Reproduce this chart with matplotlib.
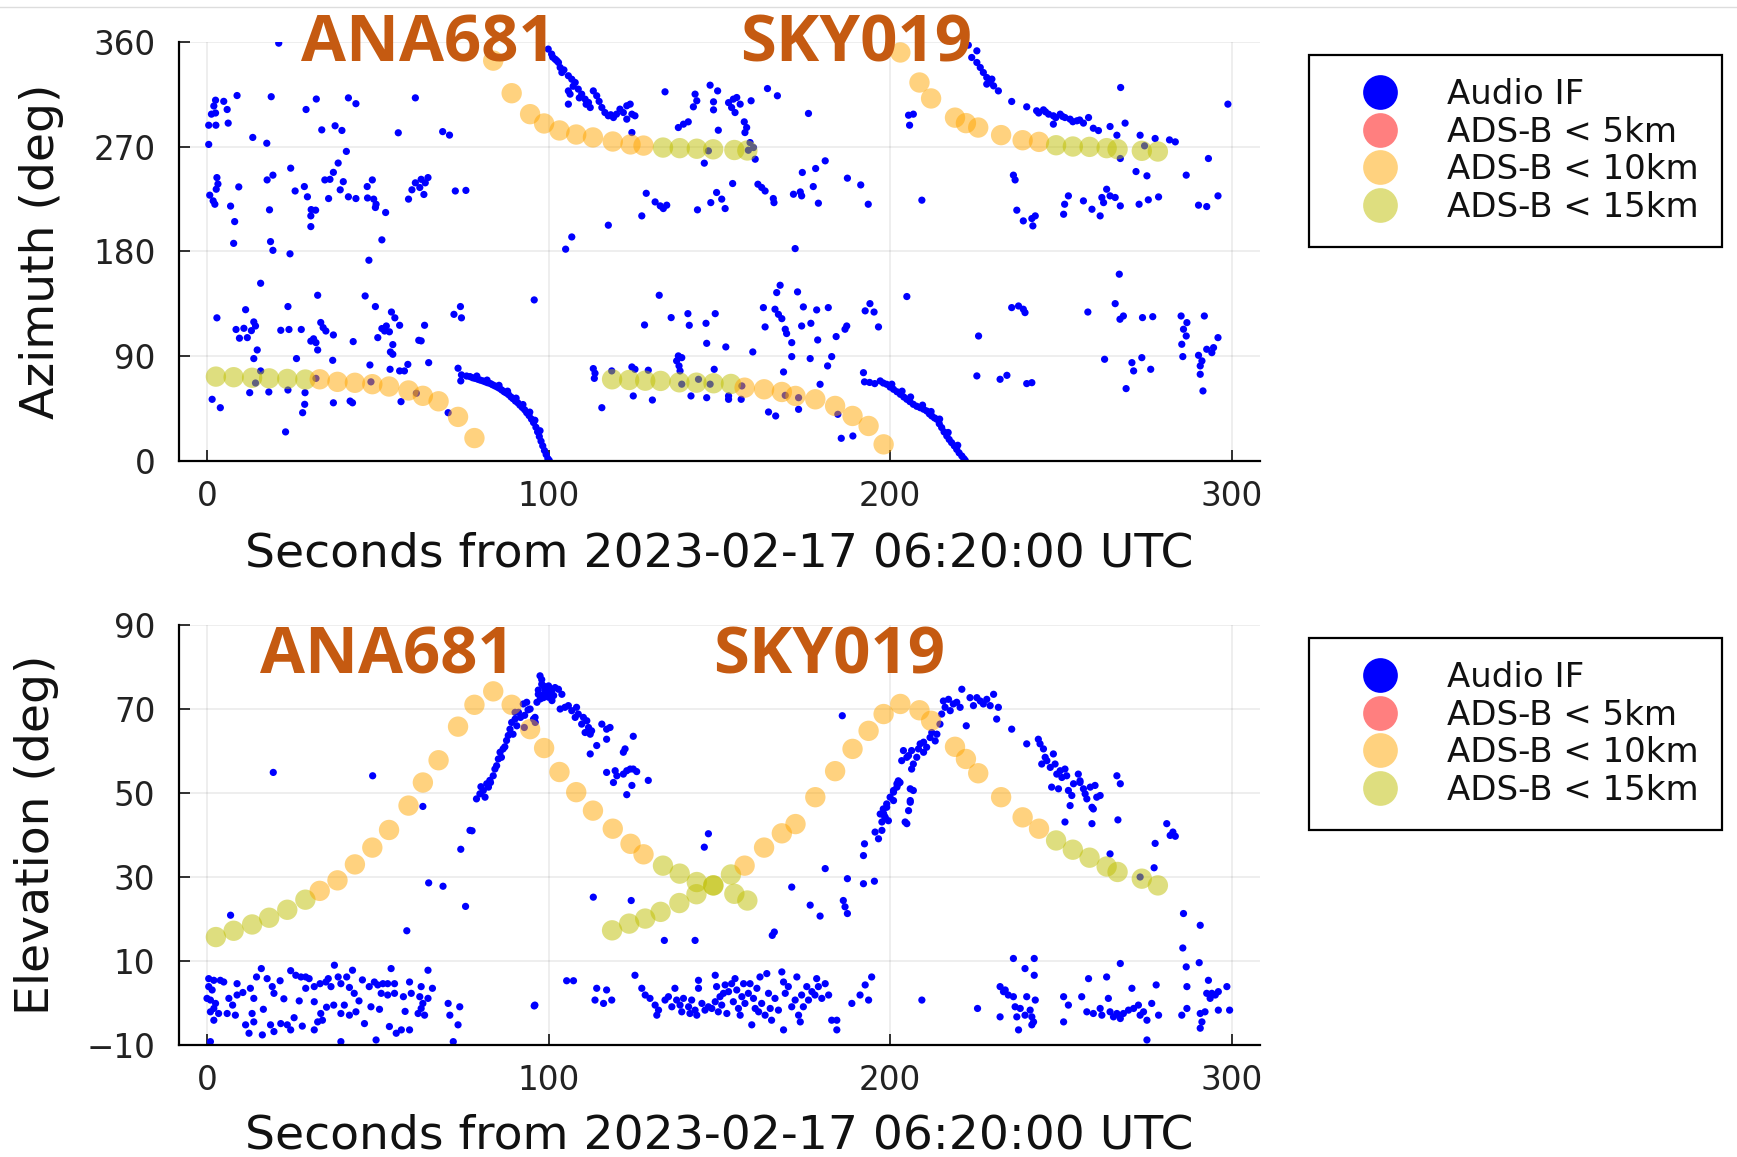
import matplotlib
matplotlib.use("Agg")
import matplotlib.pyplot as plt
from matplotlib.lines import Line2D
import numpy as np

# ---------------- DATA ----------------
# ADS-B tracks (time in s, azimuth / elevation in deg, distance class)
t_ana = [2.6, 7.8, 13.2, 18.2, 23.5, 28.8, 33.0, 38.2, 43.3, 48.4, 53.3, 59.0, 63.2, 67.8, 73.5, 78.3,
         83.8, 89.2, 94.6, 98.7, 103.2, 108.1, 113.0, 118.8, 124.0, 127.8, 133.5, 138.4, 143.4, 148.2, 154.4, 158.2]
az_ana = [72.5, 72.0, 71.5, 71.0, 70.5, 70.0, 70.2, 68.0, 67.2, 66.0, 64.0, 60.6, 56.0, 51.3, 37.9, 19.7,
          344.0, 316.0, 298.0, 290.0, 284.0, 280.5, 278.0, 274.5, 272.0, 271.0, 269.3, 268.8, 268.3, 267.8, 267.2, 266.8]
el_ana = [15.7, 17.2, 18.7, 20.3, 22.2, 24.6, 26.7, 29.2, 33.0, 37.0, 41.2, 47.0, 52.5, 57.8, 65.8, 71.0,
          74.2, 71.0, 65.2, 60.7, 55.0, 50.2, 45.8, 41.5, 37.9, 35.4, 32.7, 30.8, 28.8, 28.0, 26.0, 24.4]
cls_ana = [15] * 6 + [10] * 20 + [15] * 6

t_sky = [118.6, 123.6, 128.3, 132.8, 138.3, 143.3, 148.3, 153.4, 157.4, 163.1, 168.3, 172.3, 178.1, 183.9, 189.0,
         193.7, 198.1, 203.0, 208.6, 212.0, 219.0, 222.2, 225.8, 232.5, 238.8, 243.6, 248.6, 253.5, 258.4, 263.4,
         266.6, 273.7, 278.4]
az_sky = [70.2, 69.6, 69.0, 68.8, 67.6, 67.3, 66.8, 66.2, 63.0, 61.6, 59.3, 55.9, 53.0, 47.3, 38.7,
          30.1, 14.3, 351.0, 325.2, 311.5, 295.0, 290.3, 286.5, 280.0, 275.6, 274.2, 271.3, 270.2, 269.9, 268.8,
          267.9, 266.5, 265.9]
el_sky = [17.3, 18.9, 20.1, 21.7, 23.8, 25.9, 28.0, 30.6, 32.7, 37.0, 40.4, 42.6, 49.0, 55.2, 60.5,
          64.8, 68.8, 71.2, 69.7, 67.2, 61.0, 58.1, 54.7, 49.0, 44.2, 41.5, 38.7, 36.5, 34.6, 32.5,
          31.2, 29.6, 28.0]
cls_sky = [15] * 8 + [10] * 18 + [15] * 7

# Audio IF detections, azimuth panel (t, az)
az_if_noise_a = [
    (21, 359), (8.8, 314), (18.8, 313), (2.5, 310), (4.9, 309), (2, 305), (5.9, 302), (1.3, 298), (2.5, 299),
    (0.5, 288.5), (2.6, 288.5), (6.2, 290.3), (0.5, 272), (13.4, 278), (17.5, 273), (29, 302), (32, 311),
    (33.6, 284.5), (37.5, 288), (39.5, 284), (41.4, 312), (43.6, 307), (56, 282), (61, 312), (69, 283), (71, 280),
    (40.8, 266), (38.4, 256), (37, 248), (36, 242), (34.5, 241.5), (24.5, 251.6), (17.6, 241.5), (19.3, 245.6),
    (2.9, 243.5), (3.2, 238), (2.7, 233.5), (0.8, 228.4), (1.8, 223.5), (2.3, 220.6), (9.3, 235.5), (6.9, 219),
    (8.1, 205.7), (7.8, 187), (18.3, 215.8), (18.6, 188.5), (19.3, 181), (24.3, 178), (25.8, 232), (28.5, 235.8),
    (29.4, 227), (30.5, 216), (31.8, 215.5), (30.4, 210.6), (30.4, 201.4), (35.6, 225.5), (39.9, 240), (39, 233),
    (41.4, 227), (43.6, 225.5), (46.9, 235.8), (48.4, 241.5), (47, 226), (48.8, 225), (49.5, 220.6), (49.3, 217.8),
    (52.3, 213.5), (51.2, 190), (47.4, 172.5), (59, 225), (60, 233), (61, 239), (62.7, 242), (63.9, 239),
    (64.7, 243.5), (63.5, 229), (62.3, 235), (72.7, 232), (75.8, 232.5),
]
az_if_noise_b = [
    (15.7, 152.7), (32.4, 142.4), (46.3, 141.8), (95.8, 138.4), (2.9, 123), (11.3, 130), (23.7, 132.7),
    (49.3, 132.7), (54, 128), (55, 123), (74.2, 132.7), (72.3, 126), (74.5, 123), (13.7, 119.5), (14.2, 116),
    (8.5, 113), (10.8, 114), (13, 112), (9.5, 105.5), (11.8, 106), (21.6, 112.3), (24, 113), (27.6, 113),
    (33.3, 119), (34, 114.6), (34.8, 111.7), (37, 108.3), (30.4, 103), (31.9, 101.7), (32.4, 95.4), (31.2, 105),
    (42.8, 102.6), (50, 106), (51.2, 113.8), (52.5, 116), (53.4, 111), (52, 111.7), (54.4, 100), (53.7, 93.7),
    (54.4, 91.7), (56.4, 116.6), (63.7, 116.6), (62, 103.7), (62.7, 103.2), (14.7, 95.4), (13.7, 88), (26.2, 88),
    (36.8, 86.5), (47.7, 82.5), (58.8, 83), (57.8, 77.4), (56.4, 77.4), (53.6, 78.8), (64.9, 84.5), (15.7, 77.4),
    (23.7, 61), (18.1, 59.3), (12.5, 58.7), (28.7, 58.7), (28.6, 48.7), (28, 41.5), (37, 50), (41.9, 51.5),
    (42.6, 50), (56.8, 51), (1.5, 53), (3.9, 45.8), (23, 25), (73.5, 79.7), (74.3, 68.8), (70.6, 41.5),
    (14.2, 67), (31.9, 71), (48, 68), (61.3, 58.2),
]
az_if_ana_low = [
    (74.5, 74), (76, 73), (77, 72.5), (77.8, 71.5), (78.5, 71), (79.3, 70.2), (80, 69.5), (80.8, 68.8), (81.5, 68),
    (82.2, 67.2), (83, 66.5), (83.6, 65.5), (84.3, 64.5), (85, 63.5), (85.6, 62.5), (86.3, 61), (87, 59.5),
    (87.6, 58.5), (88.3, 57), (89, 55), (89.6, 53.5), (90.3, 51.5), (91, 50), (91.6, 48), (92.3, 46), (93, 44),
    (93.6, 41.5), (94.3, 39), (95, 36), (95.6, 33), (96.3, 29), (96.8, 25), (97.3, 21), (97.8, 17), (98.3, 13),
    (98.8, 9), (99.3, 5.5), (99.8, 2), (100.2, 0.5), (79, 73), (82, 69.5), (85.5, 65), (88, 60), (90.5, 54),
    (92.5, 48.5), (94.5, 42), (96, 35), (97.5, 26),
]
az_if_ana_high = [
    (99.9, 353.9), (100.9, 349.6), (101.9, 345.3), (102.9, 342.4), (103.4, 338.1), (103.9, 333.8), (105.8, 331),
    (106.8, 328), (107.8, 325.2), (105.8, 318), (106.3, 315.2), (108.7, 319.5), (109.7, 315.2), (110.7, 310.9),
    (111.7, 308), (112.2, 303.7), (113.1, 318), (114.1, 313.8), (115.6, 303.7), (116.5, 299.4), (117.5, 296.6),
    (119, 295.1), (119.9, 298), (120.9, 302.3), (121.9, 299.4), (122.9, 305.2), (123.9, 306.6), (124.4, 298),
    (125.3, 296.6), (122.9, 293.7), (105.8, 306.6), (124.4, 282.2), (101.2, 347), (102.4, 344), (104.5, 336),
    (107.2, 322), (109, 312), (111, 306.5), (114.8, 309), (118.2, 297.5),
]
az_if_noise_c = [
    (134.1, 317.2), (142.9, 315.2), (143.4, 309.5), (142.4, 304.3), (147.3, 322.9), (149.5, 318), (148.3, 308.6),
    (148.3, 301.7), (152.7, 307.9), (154.1, 310.9), (155.1, 312.3), (153.6, 303.7), (154.6, 299.4), (156.1, 306.6),
    (159.3, 309.5), (149.7, 284.2), (138, 286.5), (139.5, 289.4), (140.9, 291.4), (157.3, 291.4), (158, 286.5),
    (157.5, 282.2), (159, 273.6), (160, 269.3), (160.5, 259.3), (164.1, 320), (167, 313.8), (176.1, 298.6),
    (145.6, 255.9), (153.9, 238.4), (161.3, 237.8), (162.4, 235), (163.4, 232), (165.8, 225.5), (166, 222),
    (171.7, 229.2), (173.7, 231.2), (174.1, 227.8), (174.3, 247.9), (178.2, 251.3), (181, 257.9), (177.5, 235.8),
    (179, 221.5), (187.5, 243), (191.4, 237.2), (193.6, 220.6), (128.6, 230), (131.2, 222.6), (132.7, 219.2),
    (133.6, 216.9), (134.6, 219.8), (127.3, 210.6), (143.6, 215.8), (147.5, 222), (149.2, 230.7), (150.7, 225),
    (151.7, 216.9), (117.5, 202.6), (106.8, 192.5), (105, 182), (172.2, 182.5), (146.8, 266.5), (158.5, 267),
]
az_if_noise_d = [
    (132.4, 142.4), (167.8, 151), (166.8, 144.7), (172.9, 145.3), (128.1, 116.9), (135.9, 123.2), (140.8, 126.6),
    (141.2, 116.6), (146.1, 118.3), (148.8, 126.6), (146.3, 101.1), (151.9, 98), (138, 90.3), (137.5, 86),
    (139, 88.8), (138.2, 81.7), (138.5, 77.4), (148.5, 78.8), (159.8, 93.7), (162.9, 131.8), (166.3, 130.4),
    (167.3, 126), (168.3, 122.3), (169.3, 113.2), (169.7, 109.5), (163.4, 115.2), (171.2, 101.7), (171.2, 89.7),
    (174.6, 132.4), (178.5, 129.8), (181.9, 131.8), (176.8, 118.3), (174.1, 116), (178.8, 104), (176.6, 88),
    (182.9, 89.7), (181.7, 81.7), (184.2, 106.9), (186.8, 113.2), (187.3, 116), (194.1, 135.2), (192.7, 129),
    (195.3, 128), (196.6, 115.2), (192.2, 75.9), (168.8, 76.5), (179.5, 65.9), (113.1, 79.4), (113.6, 75.4),
    (113.4, 71), (118.5, 77.4), (124.4, 80.8), (125.3, 78.8), (129.2, 78), (124.8, 55.9), (130.4, 52.4),
    (115.6, 45.8), (141.7, 55.9), (146.3, 54.4), (152.7, 55.9), (152.7, 53), (156.4, 53), (164.4, 42.1),
    (166.5, 38.7), (173.2, 44.4), (185.7, 19.5), (189.1, 21.5), (139, 66), (143.9, 70.2), (147.3, 66),
    (156.6, 64.5), (169.3, 56.4), (173.2, 54.4), (184.7, 40.1),
]
az_if_sky_low = [
    (192.5, 68), (194, 67.5), (195.5, 66.5), (197.1, 68.8), (198, 67), (199, 65.9), (200, 63.5), (201, 61.6),
    (202, 59.5), (203, 57.3), (204, 55), (204.9, 53), (205.8, 51), (206.8, 48.7), (207.8, 47), (208.8, 45.8),
    (209.8, 44.5), (210.7, 43), (211.5, 40.5), (212.2, 38.7), (213, 37), (213.7, 35.8), (214.4, 32), (215.1, 28.7),
    (215.8, 25), (216.6, 21.5), (217.3, 18.5), (218, 15.8), (218.8, 13), (219.5, 10), (220.2, 7), (221, 4.3),
    (221.6, 2), (222, 0.5), (200.5, 66), (203.5, 60), (206, 55), (209.5, 48), (212, 42.5), (214.5, 36),
    (217, 24.5), (219.8, 13.5),
]
az_if_sky_high = [
    (222.9, 357.3), (225.4, 352.4), (223.9, 346.7), (225.4, 342.4), (226.4, 338.1), (227.3, 333.8), (228.3, 329.5),
    (229.3, 325.2), (230.3, 322.3), (231.7, 318), (228.3, 323.8), (229.8, 328.1), (235.6, 308.9), (240, 304.3),
    (242.9, 300.9), (244.9, 301.7), (246.4, 298), (247.8, 296.6), (249.8, 298), (251.2, 295.1), (252.7, 293.7),
    (254.7, 292.3), (256.6, 290.3), (258.1, 295.1), (259.5, 285.9), (261, 283.9), (247.8, 289.4), (264.4, 287.4),
    (266.4, 279.9), (268.8, 290.3), (273.2, 279.9), (277.6, 277.1), (281.8, 275.9), (283.5, 274.2), (243.5, 299),
    (245.5, 300), (248.5, 295), (250.5, 296), (253.5, 291.5), (255.5, 293),
]
az_if_noise_e = [
    (267.5, 320.9), (298.9, 306.6), (267.4, 259.9), (293.2, 259.9), (272, 248.7), (275.2, 245), (286.7, 245.6),
    (236.1, 245.6), (236.6, 241.5), (209.3, 224.1), (237.1, 215.5), (239, 206.3), (241.5, 208.3), (242.5, 210.6),
    (241.8, 202), (252.2, 227.8), (251.1, 220.6), (250.8, 212), (256.6, 223.5), (259.1, 216.3), (261.5, 210.6),
    (262.5, 222), (263.4, 233.5), (264.4, 227.8), (262, 226.4), (265.9, 226.4), (267.4, 219.2), (272.9, 220.6),
    (275.6, 224.4), (278.6, 226.9), (290.3, 219.8), (292.7, 218.6), (296, 227.8), (205.4, 297.1), (206.8, 298),
    (205.7, 288.5), (274.5, 270.8),
]
az_if_noise_f = [
    (267.1, 160.5), (204.9, 141.3), (235.6, 131.8), (237.6, 133.2), (239, 130.4), (239.5, 127.5), (257.9, 128),
    (265.9, 135.2), (268.3, 124.6), (267.3, 121.8), (273.9, 123.2), (276.9, 124), (285.2, 124.6), (286.9, 118.9),
    (285.9, 113.2), (286.7, 107.4), (292, 124.6), (296, 106), (285.4, 100.3), (225.9, 107.4), (285.7, 89.7),
    (290.3, 90.8), (291.3, 86), (290.8, 81.7), (292.7, 96), (294.2, 93.1), (294.7, 97.4), (290.8, 74.5),
    (291.6, 60.2), (262.8, 87.4), (270.8, 84.5), (271.3, 77.4), (273.7, 88.8), (276.3, 78.8), (269.1, 62.2),
    (225.4, 73.1), (232.2, 70.2), (234.2, 73.6), (240, 66.5), (241.5, 67.3),
]

# Audio IF detections, elevation panel (t, el)
el_if_ana = [
    (78.9, 48.6), (79.9, 49.8), (80.9, 50.6), (81.9, 52.2), (82.8, 53), (83.8, 54.1), (82.4, 51.4), (81.4, 49),
    (84.3, 55.7), (85.3, 58.1), (85.8, 59.7), (86.7, 60.5), (87.7, 62.5), (88.2, 63.7), (88.7, 65.2), (89.2, 66.8),
    (90.2, 67.6), (91.2, 69.2), (92.6, 71.2), (93.6, 71.6), (94.6, 70), (95.6, 67.6), (96.1, 66.8), (96.6, 71.6),
    (97.6, 72.4), (98, 73.2), (99, 74), (100, 72.8), (101, 72), (98, 77), (90.2, 69.2), (92.9, 65.6),
    (80.2, 51.5), (83, 52.5), (84.8, 56.5), (86.2, 58.5), (87.2, 61), (89.6, 64), (90.7, 66), (91.8, 68),
    (93, 68.5), (94, 69.8), (97, 74.5), (98.5, 75.5), (99.5, 73.5), (100.5, 74.6), (101.5, 73.2),
    (97.5, 77.9), (98, 75.9), (99, 74.7), (100, 75.5), (100.9, 74.3), (101.9, 75.1), (102.9, 74.7), (103.9, 73.5),
    (97, 73.5), (98.5, 72.7), (100.4, 73.1), (103.4, 70), (104.8, 70.4), (105.8, 70.8), (106.8, 69.6),
    (108.2, 70.4), (108.7, 68.8), (110.2, 68), (111.2, 67.2), (111.7, 65.6), (112.6, 64.8), (107.8, 68),
    (109.7, 66.4), (110.7, 64.4), (112.2, 64), (115.6, 66.4), (117, 65.2), (118, 65.6), (117, 62.8),
    (114.1, 61.3), (112.2, 59.3), (96.05, 68),
    (117, 54.9), (119.5, 55.3), (120, 54.1), (121.9, 54.5), (122.9, 55.3), (123.9, 55.7), (124.8, 55.7),
    (125.8, 55.1), (121.9, 59.7), (122.4, 60.5), (124.8, 63.5), (124.4, 51.8), (122.9, 49.6), (129.2, 53),
    (119, 52.5),
]
el_if_sky = [
    (195.6, 40.7), (196.6, 39.1), (197.6, 43.1), (198.1, 45.1), (199, 46.6), (198.5, 44.3), (200, 49), (201, 50.6),
    (202, 52.2), (202.4, 52.9), (203.4, 57.7), (203.9, 60.1), (205.4, 58.9), (206.3, 60.1), (204.4, 43.1),
    (205.9, 47.8), (205.9, 51), (197.6, 41.1), (197.1, 45), (198, 46.2), (199, 47.4), (201, 50.2), (202, 51.4),
    (202.9, 52.5), (198.5, 44.2), (199.5, 43.4), (201, 48.2), (202.4, 52.2), (204.9, 42.7), (205.4, 45.8),
    (205.9, 48.2), (206.8, 50.6), (204.9, 58.5), (206.3, 55.7), (206.8, 56.9), (207.8, 58.5), (208.3, 60.5),
    (208.8, 61.7), (209.8, 62.1), (209.8, 59.7), (210.7, 60.9), (211.7, 63.2), (212.2, 64.4), (213.2, 62.4),
    (213.7, 64), (214.6, 66.4), (215.1, 68.8), (215.6, 71.9), (216.1, 70.4), (217.1, 72.3), (217.6, 69.6),
    (218.5, 71.2), (219.5, 71.6), (220.5, 70.4), (221, 74.7), (222.3, 66), (223.4, 72.7), (224.4, 70.8),
    (225.4, 72.7), (226.4, 71.9), (227.3, 71.2), (228.3, 72.3), (229.3, 70.8), (230.3, 73.5), (231.2, 67.6),
    (231.7, 70.4), (235.6, 65.2),
    (240, 61.7), (243.4, 62.8), (243.9, 61.7), (244.9, 60.5), (245.4, 58.5), (244.4, 56.9), (245.9, 57.7),
    (246.9, 56.1), (247.8, 59.3), (248.3, 56.9), (248.8, 54.5), (249.8, 55.3), (250.3, 53.7), (251.2, 55.7),
    (251.7, 54.1), (247.3, 51.4), (249.3, 51), (252.2, 50.6), (253.2, 49.4), (253.7, 52.2), (255.1, 54.5),
    (255.6, 52.5), (256.6, 51), (257.1, 49.8), (257.6, 48.6), (258.6, 51.4), (260, 51.8), (260.5, 49),
    (261.5, 49.4), (259.1, 46.6), (252.7, 47), (255.6, 52.9), (251.2, 43.1), (259.1, 42.7), (259.5, 46.2),
    (266.4, 54.1), (267.4, 52.2), (266.7, 43.6), (264.4, 35.5),
]
el_if_scatter = [
    (19.4, 54.9), (48.5, 54.1), (63.2, 46.8), (6.9, 20.9), (58.5, 17.2), (64.9, 28.6), (69.1, 27.8), (75.7, 23),
    (74.3, 36.6), (77, 41.1), (77.6, 41), (95.8, -0.7), (146.8, 40.3), (145.6, 37.1), (113.1, 25.2), (124.2, 24.4),
    (133.9, 14.9), (142.9, 14.9), (165.5, 16.1), (166.1, 16.9), (186, 68.4), (171.2, 27.6), (181, 32),
    (176.6, 23.3), (179.5, 20.7), (187.5, 29.6), (186.3, 24.4), (186.8, 22.9), (187.5, 21.3), (192.2, 28.4),
    (195.4, 29), (192.2, 35.1), (192.5, 37.9), (277.6, 38), (277.3, 32.2), (281, 42.7), (282, 39.9),
    (283.5, 39.7), (282.8, 40.7), (285.9, 21.3), (290.8, 18.5), (285.7, 13.1), (286.7, 8.6), (290.5, 9.6),
    (273.2, 30),
]
el_if_low_a = [
    (0.5, 5.8), (2, 5.4), (3.9, 5.4), (4.9, 5), (0.5, 3.9), (1.5, 3.1), (0, 1.1), (1, 0.7), (2.5, -0.1), (2, -1.3),
    (1, -2.1), (3.4, -2.5), (2, -4.1), (6.4, 1.1), (5.9, -2.5), (8.8, 4.6), (8.8, 1.9), (8.3, -2.9), (12.7, 3.5),
    (13.7, 1.1), (13.2, -2.5), (14.5, 6.2), (15.9, 8.2), (17.6, 5.8), (19.1, 3.9), (19.6, 2.3), (21.4, 5.3),
    (24.5, 7.7), (26, 6.6), (27.5, 6.2), (28.9, 6.2), (29.9, 5.8), (28.9, 3.5), (31.4, 3.9), (31.4, 0.3),
    (33.1, 4.6), (34.8, 5), (35.5, 5.8), (36.3, 3.9), (37.3, 9), (38.4, 6.2), (39.2, 4.6), (40.9, 6.2),
    (41.7, 3.7), (42.6, 7.8), (43.1, 2.3), (40.2, -0.5), (37.1, -0.5), (39.2, -2.5), (41.7, -2.9), (43.6, -2.1),
    (33.3, -2.5), (32.4, -4.5), (31.4, -6.4), (33.8, -4.1), (47.5, 3.9), (49, 5), (50, 4.3), (51.5, 4.6),
    (52.9, 4.6), (53.9, 8.2), (54.9, 4.6), (54.9, 2.3), (52.9, 1.9), (51, 2.3), (48, -0.9), (46.1, -4.9),
    (59.3, 5), (59.8, 2.3), (62.7, 3.9), (62.3, 1.5), (63.2, -0.1), (62.7, -1.3), (61.8, -2.5), (63.7, -2.9),
    (64.7, 7.8), (64.7, 1.1), (70.6, -0.1), (74, -0.9), (71.1, -2.9), (73.5, -5.2), (11.3, -5.2), (13.7, -4.5),
    (18.6, -5.2), (21.6, -4.9), (23.5, -5.2), (24.5, -6.4), (27.9, -5.5), (19.6, -6.8), (16.2, -7.6),
    (12.3, -7.2), (1, -9.2), (39.2, -9.2), (49.5, -8.8), (53.4, -5.6), (55.4, -7.2), (56.9, -6.4), (59.3, -6.4),
    (72.1, -9.2), (7.5, -0.5), (10.5, 2.5), (16.5, -1.5), (22.5, 1), (25.5, -3.5), (27, 0.5), (35, -1),
    (44.5, 0.5), (45.5, 5.5), (50.5, -1.5), (57.5, 1.5), (58, -2), (66, 3.5),
]
el_if_low_b = [
    (105.3, 5.3), (107.3, 5.3), (114.1, 3.5), (117, 3.1), (113.6, 0.7), (116.1, -0.1), (118.5, 0.7), (96, -0.5),
    (125.3, 6.6), (127.3, 3.5), (128.3, 1.9), (129.7, 1.1), (131.2, -0.5), (132.2, -1.7), (131.7, -2.9),
    (134.1, 0.7), (135.1, 1.5), (136.1, -0.9), (137, 3.5), (137.5, 0.7), (138.5, -0.5), (139, -2.1), (139.5, 1.1),
    (141, -0.9), (141.4, -2.5), (141.9, 0.7), (142.9, -1.7), (143.4, -2.9), (143.9, 5.4), (143.9, 3.5),
    (144.9, -0.1), (145.8, -1.7), (146.8, -0.9), (147.8, -1.3), (148.8, 6.6), (148.8, 0.3), (149.2, 3.9),
    (149.7, -2.1), (150.2, 1.5), (150.7, -0.5), (151.2, 2.3), (151.7, 4.3), (152.2, -2.5), (152.7, 2.7),
    (153.6, 4.6), (154.1, 0.3), (154.6, 5.8), (155.1, 3.1), (155.6, -1.3), (156.1, -2.9), (156.6, 1.5),
    (157.1, 4.6), (157.5, -0.1), (158.5, 2.3), (159, 4.6), (159.5, -5.2), (160, 1.1), (160.5, -1.3), (161, 3.5),
    (161.5, -2.1), (161.9, 6.2), (162.4, -0.1), (163.4, -2.9), (163.9, 7), (164.4, 2.3), (164.9, -1.3),
    (165.3, -4.1), (166.3, 1.1), (167.3, -1.7), (168.3, 7.4), (168.8, 5), (168.8, -6.4), (169.3, 2.3),
    (170.2, 3.9), (171.2, -0.9), (172.2, 0.7), (172.7, 6.2), (173.2, -2.9), (173.7, -4.5), (174.1, 1.9),
    (174.6, -0.9), (175.6, 3.9), (176.1, 0.7), (177.1, 2.7), (178, 1.9), (178.5, 5.8), (179, 3.9), (180, 1.1),
    (181, 4.6), (182, 1.9), (182.9, -4.1), (184.4, -4.1), (184.4, -6.4), (188.8, -0.1), (191.2, 1.9),
    (192.7, 4.3), (193.7, 0.7), (194.6, 6.2),
]
el_if_low_c = [
    (209.3, 0.7), (225.6, -1.3), (232.2, 3.9), (233.2, 2.7), (233.7, 3.1), (236.1, 1.5), (236.6, -0.9),
    (234.6, 1.9), (232.2, -3.3), (237.1, -3.3), (237.6, -6.4), (238.1, -1.3), (239.5, -2.9), (240, 1.5),
    (241, -1.7), (241.5, -3.3), (242, -4.5), (242.5, 0.7), (241.5, -5.2), (236.1, 10.6), (239.5, 8.2),
    (242.2, 10.6), (242.2, 6.6), (250.8, 1.5), (252.2, -0.5), (250.8, -4.5), (256.1, 1.5), (257.6, -2.1),
    (258.1, 5.8), (259.5, -2.5), (261.5, -1.3), (262, -2.9), (263.4, 6.2), (263.9, 1.1), (264.4, -2.1),
    (265.4, -3.3), (266.4, -2.5), (267.4, -3.7), (267.4, 9.4), (268.3, -2.5), (269.8, -1.7), (270.8, 3.5),
    (271.3, -1.3), (272.7, -0.5), (273.2, -2.9), (274.2, -2.1), (275.2, -4.1), (276.6, -0.1), (277.9, 4.3),
    (278.6, -2.9), (275.2, -8.8), (285.4, -2.9), (286.9, -1.3), (286.9, 3.9), (290.8, -2.5), (292.2, -2.1),
    (291.3, -4.5), (290.8, -6), (293.2, 5.4), (292.7, 2.3), (294.2, 2.3), (295.2, 1.9), (293.7, 1.1),
    (296.1, 2.7), (296.1, -1.7), (298.6, 3.9), (299.4, -1.7),
]

series_labels = ["Audio IF", "ADS-B < 5km", "ADS-B < 10km", "ADS-B < 15km"]
flight_labels = ["ANA681", "SKY019"]
x_ticks = [0, 100, 200, 300]
az_ticks = [0, 90, 180, 270, 360]
el_ticks = [-10, 10, 30, 50, 70, 90]
x_label = "Seconds from 2023-02-17 06:20:00 UTC"

# ---------------- STYLE ----------------
BLUE = (0.0, 0.0, 1.0, 1.0)
C5 = (1.0, 0.0, 0.0, 0.5)
C10 = (1.0, 0.65, 0.0, 0.5)
C15 = (0.75, 0.75, 0.0, 0.5)
ANN = "#C55A11"
cls_color = {5: C5, 10: C10, 15: C15}

W, H = 1737, 1157
fig = plt.figure(figsize=(W / 100, H / 100), dpi=100)
ax_az = fig.add_axes([179 / W, 1 - 461 / H, 1081 / W, 419 / H])
ax_el = fig.add_axes([179 / W, 1 - 1045 / H, 1081 / W, 420 / H])


def pts(*groups):
    arr = np.array([p for g in groups for p in g], dtype=float)
    return arr[:, 0], arr[:, 1]


def style(ax, yticks, ylim, ylabel, xlab_y, ylab_x):
    ax.set_xlim(-8.2, 308.3)
    ax.set_ylim(*ylim)
    ax.set_xticks(x_ticks)
    ax.set_yticks(yticks)
    for s in ("top", "right"):
        ax.spines[s].set_visible(False)
    for s in ("left", "bottom"):
        ax.spines[s].set_linewidth(1.6)
        ax.spines[s].set_color("black")
    ax.tick_params(direction="in", length=8, width=1.3, labelsize=23.5, colors="#222222")
    ax.tick_params(axis="y", pad=17)
    ax.tick_params(axis="x", pad=14)
    ax.grid(True, color="black", alpha=0.08, linewidth=1.2)
    ax.set_axisbelow(True)
    ax.set_xlabel(x_label, fontsize=34, color="#111111")
    ax.xaxis.set_label_coords(0.5, xlab_y)
    ax.set_ylabel(ylabel, fontsize=34, color="#111111")
    ax.yaxis.set_label_coords(ylab_x, 0.5)


def adsb(ax, t, v, cls):
    cols = [cls_color[c] for c in cls]
    ax.scatter(t, v, s=215, c=cols, edgecolors="none", zorder=3)


# azimuth panel
tx, vy = pts(az_if_noise_a, az_if_noise_b, az_if_ana_low, az_if_ana_high, az_if_noise_c,
             az_if_noise_d, az_if_sky_low, az_if_sky_high, az_if_noise_e, az_if_noise_f)
ax_az.scatter(tx, vy, s=27, color=BLUE, edgecolors="none", zorder=2)
adsb(ax_az, t_ana, az_ana, cls_ana)
adsb(ax_az, t_sky, az_sky, cls_sky)
style(ax_az, az_ticks, (0, 360), "Azimuth (deg)", -0.168, -0.106)

# elevation panel
tx, vy = pts(el_if_ana, el_if_sky, el_if_scatter, el_if_low_a, el_if_low_b, el_if_low_c)
ax_el.scatter(tx, vy, s=27, color=BLUE, edgecolors="none", zorder=2)
adsb(ax_el, t_ana, el_ana, cls_ana)
adsb(ax_el, t_sky, el_sky, cls_sky)
style(ax_el, el_ticks, (-10, 90), "Elevation (deg)", -0.162, -0.111)

# legends
handles = [Line2D([], [], ls="", marker="o", markersize=25, markerfacecolor=c, markeredgecolor="none")
           for c in (BLUE, C5, C10, C15)]
for top_px in (55, 638):
    leg = fig.legend(handles, series_labels, loc="upper left",
                     bbox_to_anchor=(1309 / W, 1 - top_px / H), bbox_transform=fig.transFigure,
                     fontsize=24.5, frameon=True, fancybox=False, edgecolor="black", framealpha=1,
                     borderpad=0.68, labelspacing=0.135, handlelength=2.8, handletextpad=0.59,
                     borderaxespad=0)
    leg.get_frame().set_linewidth(1.6)
    for t in leg.get_texts():
        t.set_color("#111111")

# flight annotations
ann = dict(fontsize=47, fontweight="bold", family=["Open Sans", "DejaVu Sans"], color=ANN,
           ha="left", va="baseline", zorder=10)
fig.text(301 / W, 1 - 62 / H, flight_labels[0], **ann)
fig.text(740 / W, 1 - 62 / H, flight_labels[1], **ann)
fig.text(260 / W, 1 - 673 / H, flight_labels[0], **ann)
fig.text(713 / W, 1 - 673 / H, flight_labels[1], **ann)

# thin separator line at top of the screenshot
fig.add_artist(Line2D([0, 1], [1 - 7 / H, 1 - 7 / H], transform=fig.transFigure, color="#dddddd", lw=1))

fig.savefig("out.png", dpi=100)
